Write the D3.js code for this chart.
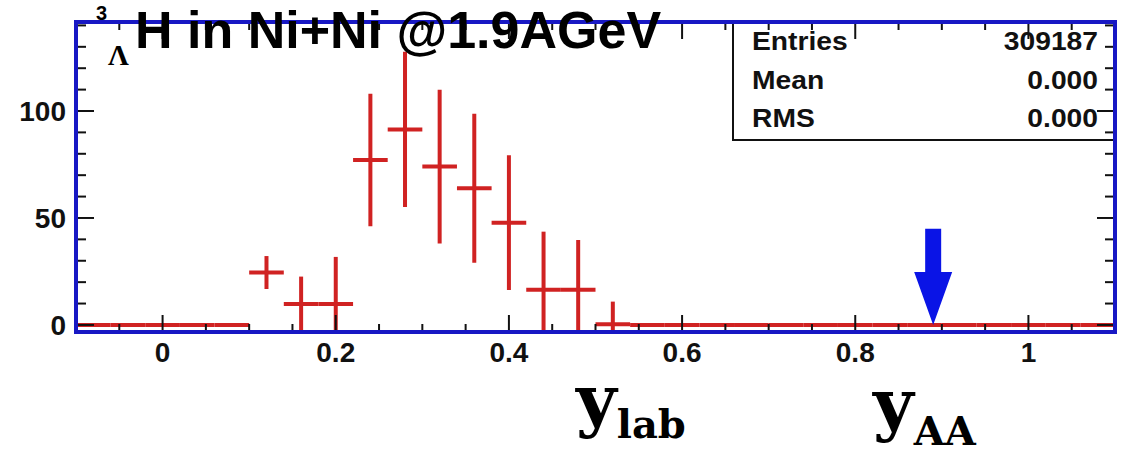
<!DOCTYPE html>
<html>
<head>
<meta charset="utf-8">
<script src="https://cdn.jsdelivr.net/npm/d3@7/dist/d3.min.js"></script>
<style>
  html, body { margin: 0; padding: 0; background: #fff; }
  svg { display: block; }
</style>
</head>
<body>
<svg id="chart" width="1124" height="454"></svg>
<script>
// Hypertriton rapidity distribution, Ni+Ni at 1.9 AGeV
const binCenters = [0.12, 0.16, 0.20, 0.24, 0.28, 0.32, 0.36, 0.40, 0.44, 0.48, 0.52];
const binCounts  = [24.5, 9.8, 9.8, 77.1, 91.4, 74.0, 63.9, 47.8, 16.4, 16.4, 0.3];
const binErrors  = [7.7, 12.8, 22.0, 31.0, 36.3, 35.9, 34.8, 31.5, 27.2, 23.3, 10.6];
const emptyBinCenters = [-0.08, -0.04, 0.00, 0.04, 0.08,
  0.56, 0.60, 0.64, 0.68, 0.72, 0.76, 0.80, 0.84, 0.88, 0.92, 0.96, 1.00, 1.04, 1.08];
const binWidth = 0.04;
const xTickValues = [0, 0.2, 0.4, 0.6, 0.8, 1];
const xTickLabels = ["0", "0.2", "0.4", "0.6", "0.8", "1"];
const yTickValues = [0, 50, 100];
const yTickLabels = ["0", "50", "100"];
const statNames  = ["Entries", "Mean", "RMS"];
const statValues = ["309187", "0.000", "0.000"];
const yAA = 0.89;        // mid-rapidity of the colliding system
const arrowTopValue = 45;

const svg = d3.select("#chart");
const frame = { left: 76, right: 1115, top: 22, bottom: 332 };

const x = d3.scaleLinear().domain([-0.1, 1.1]).range([frame.left, frame.right]);
const y = d3.scaleLinear().domain([-3.3, 141.6]).range([frame.bottom, frame.top]);

const RED = "#d02222";
const BLUE = "#1818c4";

svg.append("clipPath").attr("id", "plotClip")
  .append("rect")
  .attr("x", frame.left).attr("y", frame.top)
  .attr("width", frame.right - frame.left).attr("height", frame.bottom - frame.top);

const plot = svg.append("g").attr("clip-path", "url(#plotClip)");

// empty bins: horizontal bars at zero
plot.append("g").selectAll("line").data(emptyBinCenters).join("line")
  .attr("x1", d => x(d - binWidth / 2)).attr("x2", d => x(d + binWidth / 2))
  .attr("y1", y(0)).attr("y2", y(0))
  .attr("stroke", RED).attr("stroke-width", 4);

// filled bins: crosses with horizontal bin width and vertical error
const pts = binCenters.map((c, i) => ({ c, v: binCounts[i], e: binErrors[i] }));
const marks = plot.append("g").selectAll("g").data(pts).join("g");
marks.append("line")
  .attr("x1", d => x(d.c - binWidth / 2)).attr("x2", d => x(d.c + binWidth / 2))
  .attr("y1", d => y(d.v)).attr("y2", d => y(d.v))
  .attr("stroke", RED).attr("stroke-width", 4);
marks.append("line")
  .attr("x1", d => x(d.c)).attr("x2", d => x(d.c))
  .attr("y1", d => y(d.v + d.e)).attr("y2", d => y(d.v - d.e))
  .attr("stroke", RED).attr("stroke-width", 4);

// statistics box
svg.append("rect")
  .attr("x", 733).attr("y", frame.top)
  .attr("width", frame.right - 733).attr("height", 140 - frame.top)
  .attr("fill", "#fff").attr("stroke", "#111").attr("stroke-width", 2);
const statRows = [50, 89, 127];
statNames.forEach((n, i) => {
  svg.append("g").attr("transform", `translate(752,${statRows[i]}) scale(1.13,1)`)
    .append("text").text(n)
    .attr("font-family", "Liberation Sans, Arial, sans-serif")
    .attr("font-weight", "bold").attr("font-size", 25).attr("fill", "#111");
  svg.append("g").attr("transform", `translate(1098,${statRows[i]}) scale(1.13,1)`)
    .append("text").text(statValues[i])
    .attr("text-anchor", "end")
    .attr("font-family", "Liberation Sans, Arial, sans-serif")
    .attr("font-weight", "bold").attr("font-size", 25).attr("fill", "#111");
});

// tick marks on all four sides
const xMinor = x.ticks(24);
const yMinor = y.ticks(14).filter(v => v >= 0);
const isMajorX = v => xTickValues.some(t => Math.abs(t - v) < 1e-9);
const isMajorY = v => yTickValues.includes(v);
const ticks = svg.append("g").attr("stroke", "#111").attr("stroke-width", 2);
xMinor.forEach(v => {
  const len = isMajorX(v) ? 17 : 8;
  ticks.append("line").attr("x1", x(v)).attr("x2", x(v))
    .attr("y1", frame.bottom).attr("y2", frame.bottom - len);
  ticks.append("line").attr("x1", x(v)).attr("x2", x(v))
    .attr("y1", frame.top).attr("y2", frame.top + len);
});
yMinor.forEach(v => {
  const len = isMajorY(v) ? 18 : 10;
  ticks.append("line").attr("y1", y(v)).attr("y2", y(v))
    .attr("x1", frame.left).attr("x2", frame.left + len);
  ticks.append("line").attr("y1", y(v)).attr("y2", y(v))
    .attr("x1", frame.right).attr("x2", frame.right - len);
});

// frame
svg.append("rect")
  .attr("x", frame.left).attr("y", frame.top)
  .attr("width", frame.right - frame.left).attr("height", frame.bottom - frame.top)
  .attr("fill", "none").attr("stroke", BLUE).attr("stroke-width", 4);

// tick labels
svg.append("g").selectAll("text").data(xTickValues).join("text")
  .attr("x", d => x(d)).attr("y", 362)
  .attr("text-anchor", "middle")
  .attr("font-family", "Liberation Sans, Arial, sans-serif")
  .attr("font-weight", "bold").attr("font-size", 28).attr("fill", "#111")
  .text((d, i) => xTickLabels[i]);
svg.append("g").selectAll("text").data(yTickValues).join("text")
  .attr("x", 66).attr("y", d => y(d)).attr("dy", "0.36em")
  .attr("text-anchor", "end")
  .attr("font-family", "Liberation Sans, Arial, sans-serif")
  .attr("font-weight", "bold").attr("font-size", 28).attr("fill", "#111")
  .text((d, i) => yTickLabels[i]);

// arrow marking y_AA
const ax = x(yAA), aTop = y(arrowTopValue), aTip = y(0);
const headLen = 53, shaftHalf = 8, headHalf = 19;
svg.append("path")
  .attr("d", `M${ax - shaftHalf},${aTop} L${ax + shaftHalf},${aTop} L${ax + shaftHalf},${aTip - headLen}
    L${ax + headHalf},${aTip - headLen} L${ax},${aTip} L${ax - headHalf},${aTip - headLen}
    L${ax - shaftHalf},${aTip - headLen} Z`)
  .attr("fill", "#0a14e6");

// title
const sans = "Liberation Sans, Arial, sans-serif";
const serif = "Liberation Serif, Times New Roman, serif";
const bookSerif = "DejaVu Serif, serif";
svg.append("text").attr("x", 96).attr("y", 20).text("3")
  .attr("font-family", sans).attr("font-weight", "bold").attr("font-size", 20).attr("fill", "#000");
svg.append("text").attr("x", 108).attr("y", 65).text("Λ")
  .attr("font-family", serif).attr("font-weight", "bold").attr("font-size", 29).attr("fill", "#000");
svg.append("text").attr("x", 135).attr("y", 48).text("H in Ni+Ni @1.9AGeV")
  .attr("font-family", sans).attr("font-weight", "bold").attr("font-size", 52).attr("fill", "#000");

// axis annotations
const ylab = svg.append("text").attr("x", 576).attr("y", 424)
  .attr("font-family", bookSerif).attr("font-weight", "bold").attr("fill", "#000");
ylab.append("tspan").attr("font-size", 70).text("y");
ylab.append("tspan").attr("font-size", 40).attr("dy", 14).text("lab");
const yaa = svg.append("text").attr("x", 873).attr("y", 428)
  .attr("font-family", bookSerif).attr("font-weight", "bold").attr("fill", "#000");
yaa.append("tspan").attr("font-size", 70).text("y");
yaa.append("tspan").attr("font-size", 40).attr("dy", 17).text("AA");
</script>
</body>
</html>
